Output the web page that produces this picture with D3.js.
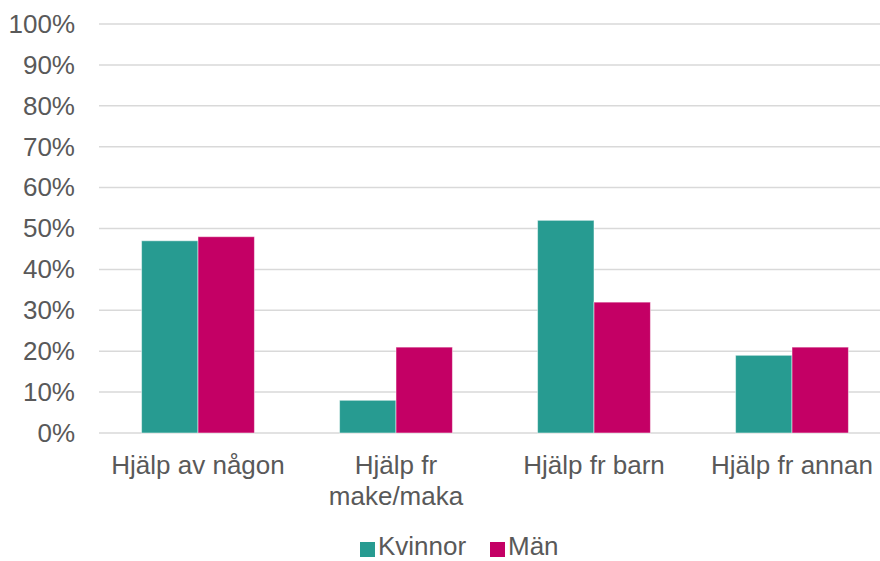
<!DOCTYPE html>
<html>
<head>
<meta charset="utf-8">
<script src="https://cdn.jsdelivr.net/npm/d3@7"></script>
<style>
  body { margin: 0; background: #fff; }
  text { font-family: "Liberation Sans", Arial, sans-serif; fill: #595959; }
</style>
</head>
<body>
<div id="chart"></div>
<script>
var categories = ["Hjälp av någon", "Hjälp fr\nmake/maka", "Hjälp fr barn", "Hjälp fr annan"]
var series = ["Kvinnor", "Män"]
var kvinnor = [47, 8, 52, 19]
var man = [48, 21, 32, 21]
var ticks = [0, 10, 20, 30, 40, 50, 60, 70, 80, 90, 100]
var colors = ["#279b91", "#c40065"]

var width = 880
var height = 561
var margin = {top: 24, bottom: 128, left: 99}
var plotRight = 891 // plot area runs a bit past the picture edge

var svg = d3.select("#chart").append("svg")
    .attr("width", width)
    .attr("height", height)

var y = d3.scaleLinear()
    .domain([0, 100])
    .range([height - margin.bottom, margin.top])

var x = d3.scaleBand()
    .domain(d3.range(categories.length))
    .range([margin.left, plotRight])
    .paddingInner(0.43)
    .paddingOuter(0.215)

var x1 = d3.scaleBand()
    .domain(d3.range(series.length))
    .range([0, x.bandwidth()])

// gridlines
svg.append("g")
    .selectAll("line")
    .data(ticks)
    .enter().append("line")
    .attr("x1", margin.left)
    .attr("x2", width)
    .attr("y1", function(d) { return y(d); })
    .attr("y2", function(d) { return y(d); })
    .attr("stroke", "#d9d9d9")
    .attr("stroke-width", 1.5)

// y axis labels
var yAxis = d3.axisLeft(y)
    .tickValues(ticks)
    .tickFormat(function(d) { return d + "%"; })
    .tickSize(0)
    .tickPadding(24)
var yg = svg.append("g")
    .attr("transform", "translate(" + margin.left + ",0)")
    .call(yAxis)
yg.select(".domain").remove()
yg.selectAll("text")
    .attr("font-size", 26)
    .attr("font-family", "Liberation Sans, Arial, sans-serif")
    .style("fill", "#595959")

// bars
var rows = categories.map(function(c, i) {
    return [kvinnor[i], man[i]];
})
var groups = svg.append("g")
    .selectAll("g")
    .data(rows)
    .enter().append("g")
    .attr("transform", function(d, i) { return "translate(" + x(i) + ",0)"; })

groups.selectAll("rect")
    .data(function(d) { return d; })
    .enter().append("rect")
    .attr("x", function(d, i) { return x1(i); })
    .attr("y", function(d) { return y(d); })
    .attr("width", x1.bandwidth())
    .attr("height", function(d) { return y(0) - y(d); })
    .attr("fill", function(d, i) { return colors[i]; })
    .attr("stroke", "rgba(255,255,255,0.5)")
    .attr("stroke-width", 1)

// x labels
var xl = svg.append("g")
    .selectAll("text")
    .data(categories)
    .enter().append("text")
    .attr("text-anchor", "middle")
    .attr("font-size", 26)
    .attr("x", function(d, i) { return x(i) + x.bandwidth() / 2; })
    .attr("y", 474)
xl.selectAll("tspan")
    .data(function(d) { return d.split("\n"); })
    .enter().append("tspan")
    .attr("x", function() { return d3.select(this.parentNode).attr("x"); })
    .attr("dy", function(d, i) { return i == 0 ? 0 : 31; })
    .text(function(d) { return d; })

// legend
var legend = svg.append("g")
    .attr("transform", "translate(360,549)")
var legX = [0, 130]
series.forEach(function(s, i) {
    legend.append("rect")
        .attr("x", legX[i])
        .attr("y", -7)
        .attr("width", 15)
        .attr("height", 15)
        .attr("fill", colors[i])
    legend.append("text")
        .attr("x", legX[i] + 18)
        .attr("y", 6)
        .attr("font-size", 26)
        .text(s)
})
</script>
</body>
</html>
